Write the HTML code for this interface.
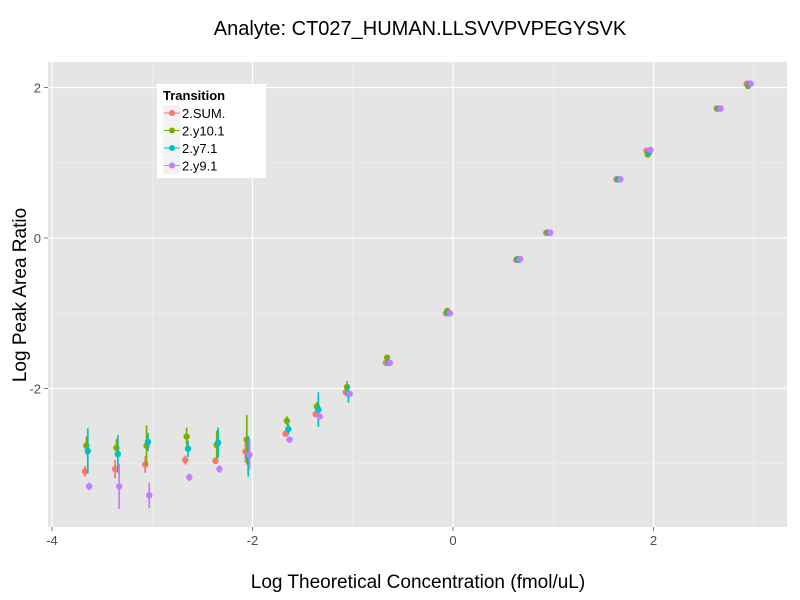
<!DOCTYPE html>
<html><head><meta charset="utf-8"><style>
body{margin:0;background:#fff;font-family:"Liberation Sans",sans-serif}
svg{display:block}
</style></head><body>
<svg id="chart" width="800" height="600" xmlns="http://www.w3.org/2000/svg">
<g id="grid"></g><g id="marks"></g><g id="axes"></g>
<text x="420" y="35" text-anchor="middle" font-size="20">Analyte: CT027_HUMAN.LLSVVPVPEGYSVK</text>
<text x="418" y="588" text-anchor="middle" font-size="19">Log Theoretical Concentration (fmol/uL)</text>
<text transform="translate(26,295) rotate(-90)" text-anchor="middle" font-size="19">Log Peak Area Ratio</text>
<g>
<rect x="157" y="84" width="109" height="94" fill="#fff"/>
<text x="163" y="100" font-size="13" font-weight="bold">Transition</text>
<g id="legend-items"></g>
</g>
</svg>
<script>
const concentrations=[-3.65,-3.35,-3.05,-2.65,-2.35,-2.05,-1.65,-1.35,-1.05,-0.65,-0.05,0.65,0.95,1.65,1.95,2.65,2.95];
const seriesNames=["2.SUM.","2.y10.1","2.y7.1","2.y9.1"];
const colors=["#F8766D","#7CAE00","#00BFC4","#C77CFF"];
const sumValues=[-3.10,-3.07,-3.01,-2.95,-2.96,-2.84,-2.60,-2.34,-2.05,-1.66,-1.00,-0.29,0.07,0.78,1.16,1.72,2.05];
const sumErr=[0.07,0.12,0.11,0.06,0.04,0.14,0.04,0.03,0.03,0.02,0.02,0.02,0.02,0.02,0.02,0.02,0.02];
const y10Values=[-2.76,-2.79,-2.76,-2.64,-2.75,-2.68,-2.43,-2.24,-1.98,-1.59,-0.97,-0.28,0.07,0.78,1.11,1.72,2.02];
const y10Err=[0.12,0.12,0.27,0.12,0.19,0.33,0.06,0.06,0.08,0.04,0.04,0.02,0.02,0.02,0.02,0.02,0.02];
const y7Values=[-2.83,-2.87,-2.71,-2.80,-2.72,-2.90,-2.54,-2.28,-2.07,-1.66,-1.00,-0.29,0.07,0.78,1.14,1.72,2.05];
const y7Err=[0.30,0.25,0.12,0.11,0.20,0.27,0.07,0.23,0.12,0.02,0.02,0.02,0.02,0.02,0.02,0.02,0.02];
const y9Values=[-3.30,-3.30,-3.42,-3.18,-3.07,-2.88,-2.68,-2.37,-2.07,-1.66,-1.00,-0.28,0.07,0.78,1.17,1.72,2.05];
const y9Err=[0.05,0.30,0.17,0.05,0.05,0.20,0.04,0.03,0.03,0.02,0.02,0.02,0.02,0.02,0.02,0.02,0.02];
const xTicks=[-4,-2,0,2];
const yTicks=[-2,0,2];
const allValues=[sumValues,y10Values,y7Values,y9Values];
const allErr=[sumErr,y10Err,y7Err,y9Err];
const L=48,R=787,T=62,B=527;
const sx=v=>453+100.25*v, sy=v=>238-75.25*v;
const NS="http://www.w3.org/2000/svg";
function mk(tag,attrs,parent){const e=document.createElementNS(NS,tag);for(const k in attrs)e.setAttribute(k,attrs[k]);parent.appendChild(e);return e;}
const grid=document.getElementById('grid');
const bg=mk('rect',{x:L,y:T,width:R-L,height:B-T,fill:'#E5E5E5'},grid);


[-3,-1,1,3].forEach(v=>{if(sx(v)<R){const l=mk('line',{x1:sx(v),x2:sx(v),y1:T,y2:B,stroke:'#F2F2F2','stroke-width':0.6},grid);}});
[-3,-1,1].forEach(v=>{const l=mk('line',{x1:L,x2:R,y1:sy(v),y2:sy(v),stroke:'#F2F2F2','stroke-width':0.6},grid);});
const axes=document.getElementById('axes');
xTicks.forEach(v=>{const l=mk('line',{x1:sx(v),x2:sx(v),y1:T,y2:B,stroke:'#fff','stroke-width':1.2},grid);
const tk=mk('line',{x1:sx(v),x2:sx(v),y1:B,y2:B+4,stroke:'#7f7f7f'},axes);
const t=mk('text',{x:sx(v),y:B+18,'text-anchor':'middle','font-size':13,fill:'#4d4d4d'},axes);t.textContent=v;});
yTicks.forEach(v=>{const l=mk('line',{x1:L,x2:R,y1:sy(v),y2:sy(v),stroke:'#fff','stroke-width':1.2},grid);
const tk=mk('line',{x1:L-4,x2:L,y1:sy(v),y2:sy(v),stroke:'#7f7f7f'},axes);
const t=mk('text',{x:L-7,y:sy(v)+5,'text-anchor':'end','font-size':13,fill:'#4d4d4d'},axes);t.textContent=v;});
const marks=document.getElementById('marks');
const dodge=[-0.02,-0.007,0.007,0.02];
allValues.forEach((vals,s)=>{
 const g=mk('g',{},marks);
 
 
 vals.forEach((v,i)=>{
  const x=sx(concentrations[i]+dodge[s]);const e=allErr[s][i];
  const ln=mk('line',{x1:x,x2:x,y1:sy(v+e),y2:sy(v-e),stroke:colors[s],'stroke-width':1.7},g);
  
  
  const c=mk('circle',{cx:x,cy:sy(v),r:3.2,fill:colors[s]},g);
  
  
 });
});
const li=document.getElementById('legend-items');
seriesNames.forEach((n,i)=>{
 const y=113+i*17.5;
 const g=mk('g',{},li);
 
 
 mk('rect',{x:163,y:y-8,width:17,height:17,fill:'#F2F2F2'},g);
 mk('line',{x1:164,x2:180,y1:y,y2:y,stroke:colors[i],'stroke-width':1},g);
 mk('circle',{cx:172,cy:y,r:3,fill:colors[i]},g);
 const t=mk('text',{x:182,y:y+5,'font-size':13},g);t.textContent=n;
});
</script>
</body></html>
